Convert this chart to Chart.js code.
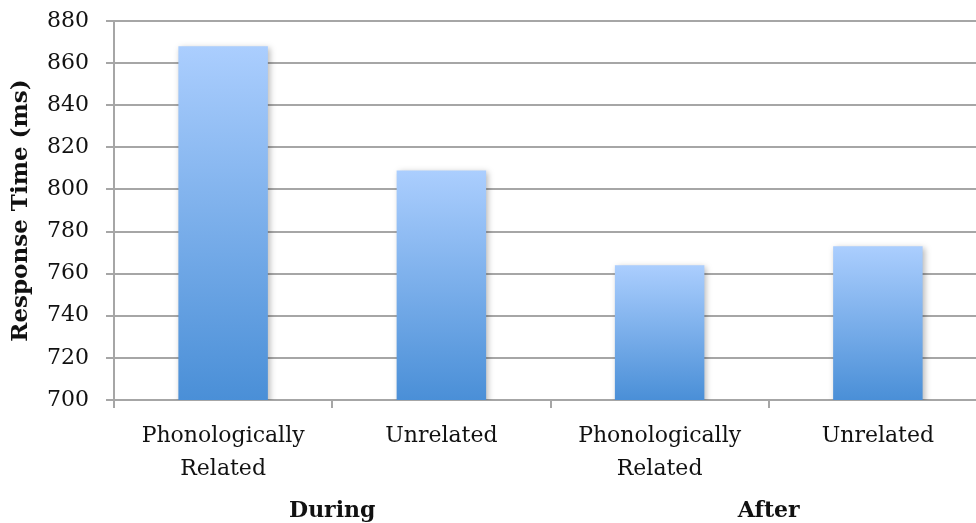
<!DOCTYPE html>
<html>
<head>
<meta charset="utf-8">
<script src="https://cdn.jsdelivr.net/npm/chart.js@4/dist/chart.umd.min.js"></script>
<style>
  html, body { margin: 0; padding: 0; background: #fff; overflow: hidden; }
  #wrap { width: 976px; height: 523px; overflow: hidden; position: relative; }
  canvas { display: block; }
</style>
</head>
<body>
<div id="wrap"><canvas id="c" width="1000" height="523"></canvas></div>
<script>
// Conditions along the x axis (two-line labels) and the timing group each belongs to
const categories = [['Phonologically', 'Related'], 'Unrelated', ['Phonologically', 'Related'], 'Unrelated'];
const groups = ['During', 'After'];
const groupOf = [0, 0, 1, 1];
// Mean response times in milliseconds
const responseTimes = [868, 809, 764, 773];
// Value axis range and step
const yMin = 700, yMax = 880, yStep = 20;

const FONT = "'DejaVu Serif', serif";
const GRID = '#a6a6a6';
const TEXT = '#111111';

// Vertical gradient running from each bar's top to its base
function barFill(ctx) {
  const chart = ctx.chart;
  const ys = chart.scales.y;
  if (!ys || ctx.type !== 'data') return '#7aaef0';
  const top = ys.getPixelForValue(ctx.raw);
  const base = ys.getPixelForValue(yMin);
  if (!isFinite(top) || !isFinite(base) || top === base) return '#7aaef0';
  const g = chart.ctx.createLinearGradient(0, top, 0, base);
  g.addColorStop(0, '#abcefe');
  g.addColorStop(1, '#4a8fd7');
  return g;
}

// Soft drop shadow under the bars
const barShadow = {
  id: 'barShadow',
  beforeDatasetsDraw(chart) {
    const c = chart.ctx;
    c.save();
    c.shadowColor = 'rgba(0,0,0,0.28)';
    c.shadowBlur = 6;
    c.shadowOffsetX = 2;
    c.shadowOffsetY = 2;
  },
  afterDatasetsDraw(chart) {
    chart.ctx.restore();
  }
};

// Bold group captions centred under each pair of conditions
const groupLabels = {
  id: 'groupLabels',
  afterDraw(chart) {
    const xs = chart.scales.x;
    const c = chart.ctx;
    c.save();
    c.font = "bold 22px " + FONT;
    c.fillStyle = TEXT;
    c.textAlign = 'center';
    c.textBaseline = 'middle';
    groups.forEach((name, gi) => {
      const idx = groupOf.map((g, i) => g === gi ? i : -1).filter(i => i >= 0);
      const cx = idx.reduce((s, i) => s + xs.getPixelForValue(i), 0) / idx.length;
      c.fillText(name, cx, xs.bottom - 12);
    });
    c.restore();
  }
};

new Chart(document.getElementById('c'), {
  type: 'bar',
  data: {
    labels: categories,
    datasets: [{
      data: responseTimes,
      backgroundColor: barFill,
      borderWidth: 0,
      categoryPercentage: 1,
      barPercentage: 0.41
    }]
  },
  options: {
    responsive: false,
    animation: false,
    layout: { padding: { top: 21, right: 13, left: 0, bottom: 0 } },
    plugins: {
      legend: { display: false },
      tooltip: { enabled: false }
    },
    scales: {
      x: {
        offset: true,
        grid: {
          offset: true,
          drawOnChartArea: false,
          drawTicks: true,
          tickLength: 8,
          color: GRID,
          lineWidth: 2
        },
        border: { display: true, color: GRID, width: 2 },
        ticks: {
          color: TEXT,
          font: { family: FONT, size: 22, lineHeight: 1.5 },
          padding: 12,
          maxRotation: 0,
          autoSkip: false
        },
        afterFit(scale) {
          scale.height = 123;
          scale.paddingLeft = 0;
          scale.paddingRight = 0;
        }
      },
      y: {
        min: yMin,
        max: yMax,
        ticks: {
          stepSize: yStep,
          color: TEXT,
          font: { family: FONT, size: 22 },
          padding: 17
        },
        grid: {
          color: GRID,
          lineWidth: 2,
          drawTicks: true,
          tickLength: 8
        },
        border: { display: true, color: GRID, width: 2 },
        title: {
          display: true,
          text: 'Response Time (ms)',
          color: TEXT,
          font: { family: FONT, size: 23, weight: 'bold' },
          padding: { top: 7, bottom: 0 }
        },
        afterFit(scale) {
          scale.width = 114;
          scale.paddingTop = 0;
          scale.paddingBottom = 0;
        }
      }
    }
  },
  plugins: [barShadow, groupLabels]
});
</script>
</body>
</html>
